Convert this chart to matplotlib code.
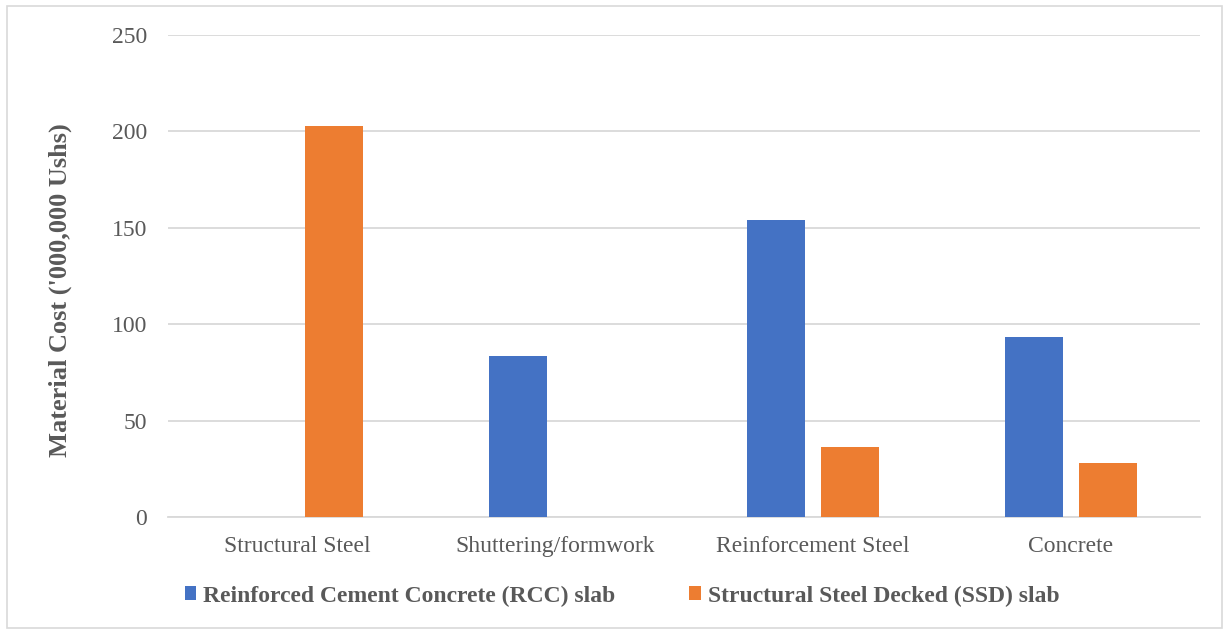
import matplotlib
matplotlib.use("Agg")
import matplotlib.pyplot as plt
from matplotlib.patches import Rectangle
import numpy as np

categories = ["Structural Steel", "Shuttering/formwork", "Reinforcement Steel", "Concrete"]
rcc_cost = [0, 83.5, 154, 93.5]
ssd_cost = [203, 0, 36.5, 28]
series_names = ["Reinforced Cement Concrete (RCC) slab", "Structural Steel Decked (SSD) slab"]
y_ticks = [0, 50, 100, 150, 200, 250]

BLUE = "#4472C4"
ORANGE = "#ED7D31"
GRID = "#D9D9D9"
TEXT = "#595959"

plt.rcParams["font.family"] = ["Liberation Serif", "DejaVu Serif"]

fig = plt.figure(figsize=(12.25, 6.32), dpi=100)
fig.patches.append(Rectangle((7 / 1225, 1 - 628 / 632), 1215 / 1225, 622 / 632,
                             transform=fig.transFigure, fill=False,
                             edgecolor="#D9D9D9", linewidth=1.2))

ax = fig.add_axes([168 / 1225, 1 - 517 / 632, 1032 / 1225, (517 - 35) / 632])
x = np.arange(len(categories))
w = 0.225
off = 0.143
ax.bar(x - off, rcc_cost, width=w, color=BLUE, label=series_names[0], zorder=3)
ax.bar(x + off, ssd_cost, width=w, color=ORANGE, label=series_names[1], zorder=3)

ax.set_xlim(-0.5, len(categories) - 0.5)
ax.set_ylim(0, 250)
ax.set_yticks(y_ticks)
ax.set_xticks(x)
ax.set_xticklabels(categories)
ax.tick_params(axis="both", length=0, labelsize=17, colors=TEXT)
ax.tick_params(axis="x", pad=14)
ax.tick_params(axis="y", pad=15)
ax.yaxis.grid(True, color=GRID, linewidth=1.3, zorder=0)
for s in ["top", "right", "left"]:
    ax.spines[s].set_visible(False)
ax.spines["bottom"].set_color(GRID)
ax.spines["bottom"].set_linewidth(1.3)

fig.text(60 / 1225, 1 - 290 / 632, "Material Cost ('000,000 Ushs)", rotation=90,
         ha="center", va="center", fontsize=19, fontweight="bold", color=TEXT)

leg = fig.legend(loc="center", bbox_to_anchor=(622 / 1225, 1 - 596 / 632), ncol=2,
                 frameon=False, fontsize=17, handlelength=0.5, handleheight=0.5,
                 handletextpad=0.3, columnspacing=3.1)
for t in leg.get_texts():
    t.set_fontweight("bold")
    t.set_color(TEXT)

fig.savefig("out.png", dpi=100)
